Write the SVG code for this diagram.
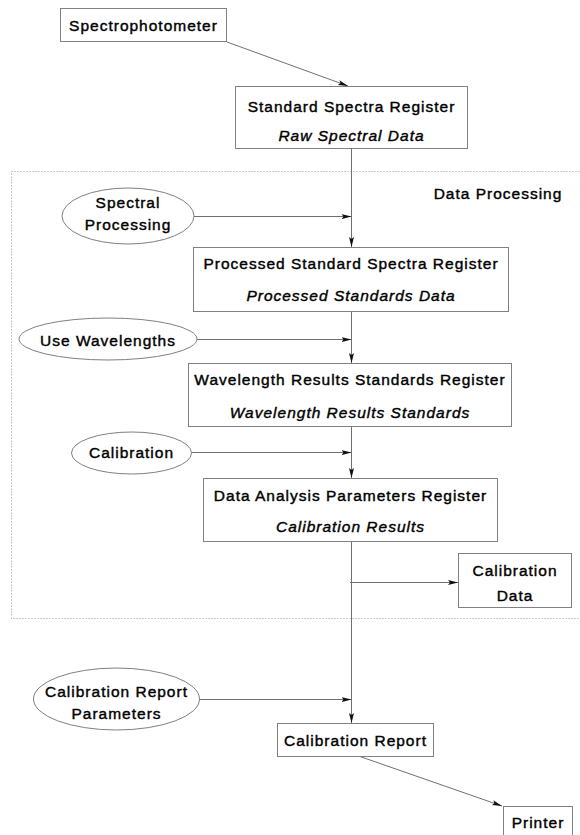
<svg xmlns="http://www.w3.org/2000/svg" width="580" height="835" viewBox="0 0 580 835">
<defs>
<marker id="arr" markerUnits="userSpaceOnUse" markerWidth="10" markerHeight="6" refX="10" refY="3" orient="auto">
<path d="M0,0.5 L10,3 L0,5.5 L2,3 z" fill="#111"/>
</marker>
<style>
.box{fill:#fff;stroke:#808080;stroke-width:1}
.ell{fill:#fff;stroke:#808080;stroke-width:1}
.t{font-family:"Liberation Sans",Arial,sans-serif;font-size:15.5px;letter-spacing:1px;fill:#000;stroke:#000;stroke-width:0.4px;text-anchor:middle}
.i{font-style:italic}
.c{fill:none;stroke:#707070;stroke-width:1;marker-end:url(#arr)}
.grp{fill:none;stroke:#999;stroke-width:1;stroke-dasharray:1,2}
</style>
</defs>
<rect width="580" height="835" fill="#fff"/>
<g id="data-processing">
<rect class="grp" x="11.5" y="171.5" width="600" height="447"/>
<text class="t" x="498" y="198.5">Data Processing</text>
</g>
<g id="connectors">
<line class="c" x1="227" y1="42" x2="348" y2="86"/>
<line class="c" x1="351.5" y1="149" x2="351.5" y2="247"/>
<line class="c" x1="194" y1="216.5" x2="351.5" y2="216.5"/>
<line class="c" x1="351.5" y1="312" x2="351.5" y2="363"/>
<line class="c" x1="197" y1="339.5" x2="351.5" y2="339.5"/>
<line class="c" x1="351.5" y1="427" x2="351.5" y2="478"/>
<line class="c" x1="191.5" y1="452.5" x2="351.5" y2="452.5"/>
<line class="c" x1="351.5" y1="542" x2="351.5" y2="723"/>
<line class="c" x1="350" y1="582.5" x2="458" y2="582.5"/>
<line class="c" x1="199.5" y1="699.5" x2="351.5" y2="699.5"/>
<line class="c" x1="360" y1="756.5" x2="502" y2="806"/>
</g>
<g id="spectrophotometer">
<rect class="box" x="60.5" y="8.5" width="166" height="33"/>
<text class="t" x="143.5" y="30.5">Spectrophotometer</text>
</g>
<g id="standard-spectra-register">
<rect class="box" x="235.5" y="86.5" width="232" height="62"/>
<text class="t" x="351.5" y="111.5">Standard Spectra Register</text>
<text class="t i" x="351.5" y="140.5">Raw Spectral Data</text>
</g>
<g id="spectral-processing">
<ellipse class="ell" cx="128" cy="216" rx="66" ry="28"/>
<text class="t" x="128" y="207.5">Spectral</text>
<text class="t" x="128" y="229.5">Processing</text>
</g>
<g id="processed-standard-spectra-register">
<rect class="box" x="193.5" y="247.5" width="315" height="64"/>
<text class="t" x="351" y="268.5">Processed Standard Spectra Register</text>
<text class="t i" x="351" y="300.5">Processed Standards Data</text>
</g>
<g id="use-wavelengths">
<ellipse class="ell" cx="108" cy="339" rx="89" ry="21"/>
<text class="t" x="108" y="345.5">Use Wavelengths</text>
</g>
<g id="wavelength-results-standards-register">
<rect class="box" x="188.5" y="363.5" width="323" height="63"/>
<text class="t" x="350" y="384.5">Wavelength Results Standards Register</text>
<text class="t i" x="350" y="417.5">Wavelength Results Standards</text>
</g>
<g id="calibration">
<ellipse class="ell" cx="131.5" cy="453" rx="60" ry="21"/>
<text class="t" x="131.5" y="457.5">Calibration</text>
</g>
<g id="data-analysis-parameters-register">
<rect class="box" x="203.5" y="478.5" width="294" height="63"/>
<text class="t" x="350.5" y="500.5">Data Analysis Parameters Register</text>
<text class="t i" x="350.5" y="531.5">Calibration Results</text>
</g>
<g id="calibration-data">
<rect class="box" x="458.5" y="553.5" width="113" height="54"/>
<text class="t" x="515" y="576">Calibration</text>
<text class="t" x="515" y="600.5">Data</text>
</g>
<g id="calibration-report-parameters">
<ellipse class="ell" cx="116.5" cy="699" rx="83" ry="31"/>
<text class="t" x="116.5" y="697">Calibration Report</text>
<text class="t" x="116.5" y="719">Parameters</text>
</g>
<g id="calibration-report">
<rect class="box" x="277.5" y="723.5" width="156" height="33"/>
<text class="t" x="355.5" y="745.5">Calibration Report</text>
</g>
<g id="printer">
<rect class="box" x="503.5" y="806.5" width="69" height="40"/>
<text class="t" x="538" y="828">Printer</text>
</g>
</svg>
